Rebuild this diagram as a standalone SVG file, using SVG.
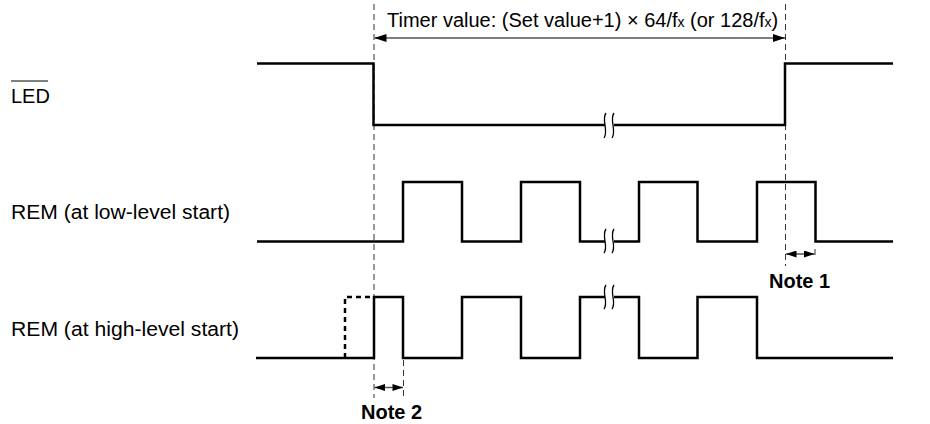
<svg xmlns="http://www.w3.org/2000/svg" width="930" height="424" viewBox="0 0 930 424">
<defs>
<style>
.sig{fill:none;stroke:#000;stroke-width:2.5;stroke-linejoin:miter}
.sigd{fill:none;stroke:#000;stroke-width:2.5;stroke-dasharray:5 4}
.guide{fill:none;stroke:#333;stroke-width:1;stroke-dasharray:6 4}
.dim{fill:none;stroke:#555;stroke-width:1.5}
.brk{fill:none;stroke:#000;stroke-width:1.3}
.gap{fill:#fff;stroke:none}
.lbl{font-family:"Liberation Sans",Arial,sans-serif;font-size:20px;fill:#000}
.note{font-family:"Liberation Sans",Arial,sans-serif;font-size:20px;font-weight:bold;fill:#000}
</style>
<marker id="ah" viewBox="0 0 12 8" refX="12" refY="4" markerWidth="12" markerHeight="8" markerUnits="userSpaceOnUse" orient="auto-start-reverse">
<path d="M0,0 L12,4 L0,8 z" fill="#000"/>
</marker>
<marker id="ahs" viewBox="0 0 12 8" refX="12" refY="4" markerWidth="12" markerHeight="7" markerUnits="userSpaceOnUse" orient="auto-start-reverse">
<path d="M0,0 L12,4 L0,8 z" fill="#000"/>
</marker>
</defs>
<rect width="930" height="424" fill="#fff"/>

<g id="connectors">
<line class="guide" x1="374" y1="4" x2="374" y2="398"/>
<line class="guide" x1="785.5" y1="4" x2="785.5" y2="266"/>
<line class="guide" x1="403.5" y1="360" x2="403.5" y2="396"/>
<line class="guide" x1="815" y1="249" x2="815" y2="259"/>
<line class="dim" x1="374.5" y1="38" x2="785" y2="38" marker-start="url(#ah)" marker-end="url(#ah)"/>
<line class="dim" x1="786" y1="254" x2="814.5" y2="254" marker-start="url(#ahs)" marker-end="url(#ahs)"/>
<line class="dim" x1="374.5" y1="387.5" x2="403" y2="387.5" marker-start="url(#ahs)" marker-end="url(#ahs)"/>
</g>

<g id="title">
<text class="lbl" x="387" y="27">Timer value: (Set value+1) × 64/f<tspan font-size="14">x</tspan> (or 128/f<tspan font-size="14">x</tspan>)</text>
</g>

<g id="led">
<text class="lbl" x="11" y="103">LED</text>
<line x1="11" y1="81" x2="48" y2="81" stroke="#000" stroke-width="1"/>
<polyline class="sig" points="257,63.5 373.5,63.5 373.5,125 785,125 785,63.5 893,63.5"/>
<rect class="gap" x="605" y="120" width="9" height="10"/>
<path class="brk" d="M606,113 C601,120 609,130 604,138"/>
<path class="brk" d="M614,113 C609,120 617,130 612,138"/>
</g>

<g id="rem-low">
<text class="lbl" x="11" y="219" textLength="219" lengthAdjust="spacingAndGlyphs">REM (at low-level start)</text>
<polyline class="sig" points="257,241.5 403,241.5 403,182 462,182 462,241.5 521,241.5 521,182 580,182 580,241.5 639,241.5 639,182 697.5,182 697.5,241.5 757,241.5 757,182 815.5,182 815.5,241.5 893,241.5"/>
<rect class="gap" x="605" y="236" width="9" height="10"/>
<path class="brk" d="M606,229 C601,236 609,246 604,253"/>
<path class="brk" d="M614,229 C609,236 617,246 612,253"/>
</g>

<g id="rem-high">
<text class="lbl" x="11" y="336" textLength="228" lengthAdjust="spacingAndGlyphs">REM (at high-level start)</text>
<polyline class="sigd" points="345,358 345,297 373,297"/>
<polyline class="sig" points="256,358 374,358 374,297 403,297 403,358 462,358 462,297 521,297 521,358 580,358 580,297 639,297 639,358 697.5,358 697.5,297 757,297 757,358 893,358"/>
<rect class="gap" x="605" y="292" width="9" height="10"/>
<path class="brk" d="M606,285 C601,292 609,302 604,309"/>
<path class="brk" d="M614,285 C609,292 617,302 612,309"/>
</g>

<g id="note1">
<text class="note" x="769" y="288">Note 1</text>
</g>
<g id="note2">
<text class="note" x="361" y="419">Note 2</text>
</g>
</svg>
